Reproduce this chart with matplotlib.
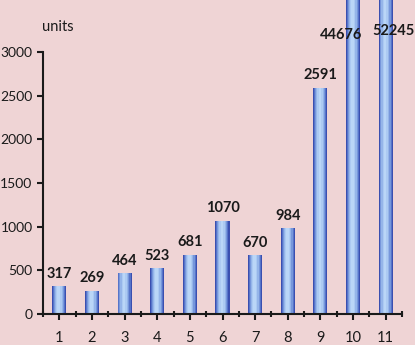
import matplotlib
matplotlib.use("Agg")
import matplotlib.pyplot as plt
import numpy as np

categories = ["1", "2", "3", "4", "5", "6", "7", "8", "9", "10", "11"]
values = [317, 269, 464, 523, 681, 1070, 670, 984, 2591, 44676, 52245]
yticks = [0, 500, 1000, 1500, 2000, 2500, 3000]

bg = "#EFD4D5"
fig = plt.figure(figsize=(4.15, 3.45), dpi=100, facecolor=bg)
ax = fig.add_axes([43/415, 1-314/345, 359/415, 262/345])
ax.set_facecolor(bg)

x = np.arange(len(categories))
ymax = 3000

# gradient-like bars: layered widths
layers = [(0.43, "#3A4FB0"), (0.37, "#5674C9"), (0.31, "#7797DB"),
          (0.24, "#95B5E9"), (0.16, "#ACCAF2"), (0.08, "#BAD6F7")]
for w, c in layers:
    ax.bar(x - 0.02 * (0.43 - w) / 0.43, values, width=w, color=c,
           linewidth=0, clip_on=False, zorder=2)

fs = 10.5
for i, v in enumerate(values):
    if v <= ymax:
        ax.annotate(str(v), (x[i], v), xytext=(0, 4), textcoords="offset points",
                    ha="center", va="bottom", fontsize=fs, fontweight="bold",
                    color="#1A1A1A", family="Lato", zorder=5)
ax.text(x[9] - 0.37, 3110, str(values[9]), ha="center", va="bottom",
        fontsize=fs, fontweight="bold", color="#1A1A1A", family="Lato", zorder=5)
ax.text(x[10] + 0.25, 3160, str(values[10]), ha="center", va="bottom",
        fontsize=fs, fontweight="bold", color="#1A1A1A", family="Lato", zorder=5)

ax.set_xlim(-0.5, len(categories) - 0.5)
ax.set_ylim(0, ymax)
ax.set_yticks(yticks)
ax.set_yticklabels([str(t) for t in yticks], fontsize=10, family="Lato", color="#1A1A1A")
ax.set_xticks(x)
ax.set_xticklabels(categories, fontsize=fs, family="Lato", color="#1A1A1A")
ax.set_xticks(np.arange(-0.5, len(categories), 1.0), minor=True)
ax.tick_params(axis="x", which="major", length=4, width=1.5, pad=8, direction="out", color="#1A1A1A")
ax.tick_params(axis="x", which="minor", length=4, width=1.5, direction="inout", color="#1A1A1A")
ax.tick_params(axis="y", length=4, width=1.5, pad=3.5, color="#1A1A1A")

for s in ["top", "right"]:
    ax.spines[s].set_visible(False)
for s in ["left", "bottom"]:
    ax.spines[s].set_linewidth(1.5)
    ax.spines[s].set_color("#1A1A1A")

fig.text(42/415, 1-27/345, "units", fontsize=fs, family="Lato", color="#1A1A1A",
         va="center", ha="left")

fig.savefig("out.png", dpi=100, facecolor=bg)
